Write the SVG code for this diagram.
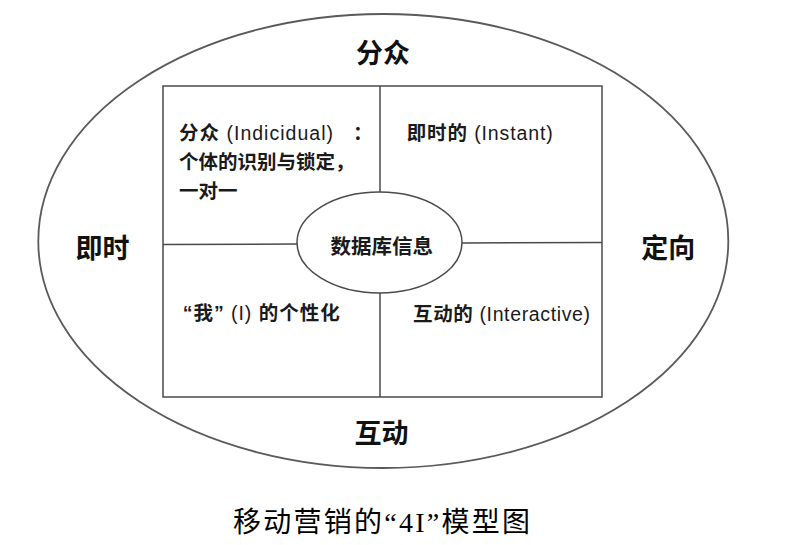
<svg xmlns="http://www.w3.org/2000/svg" width="793" height="545" viewBox="0 0 793 545">
<style>
.ln{fill:none;stroke:#4a4a4a;stroke-width:1.5}
.out{fill:none;stroke:#5a5a5a;stroke-width:1.8}
.big{font-family:"Noto Sans CJK SC","Liberation Sans",sans-serif;font-size:27px;font-weight:bold;fill:#111;text-anchor:middle}
.txt{font-family:"Liberation Sans","Noto Sans CJK SC",sans-serif;font-size:19.5px;fill:#1a1a1a}
.b{font-weight:bold}
.ctr{font-family:"Noto Sans CJK SC","Liberation Sans",sans-serif;font-size:20.5px;font-weight:bold;fill:#1a1a1a;text-anchor:middle}
.cap{font-family:"Liberation Serif","Noto Sans CJK SC",serif;font-size:28px;fill:#000}
</style>
<rect width="793" height="545" fill="#fff"/>
<g id="outer-model">
<ellipse class="out" cx="383.3" cy="241" rx="345" ry="227"/>
<text class="big" x="383" y="63">分众</text>
<text class="big" x="102.5" y="258">即时</text>
<text class="big" x="668.3" y="258">定向</text>
<text class="big" x="381.5" y="443">互动</text>
</g>
<g id="matrix">
<rect class="ln" x="163" y="86" width="439" height="311"/>
</g>
<g id="connectors">
<line class="ln" x1="380" y1="86" x2="380" y2="192"/>
<line class="ln" x1="380" y1="293" x2="380" y2="397"/>
<line class="ln" x1="163" y1="244.5" x2="297" y2="244"/>
<line class="ln" x1="462" y1="243" x2="602" y2="242.5"/>
</g>
<g id="quadrant-individual">
<text class="txt" x="179" y="140" textLength="154" lengthAdjust="spacing"><tspan class="b">分众</tspan> (Indicidual)</text>
<text class="txt b" x="353" y="140">：</text>
<text class="txt b" x="179" y="169">个体的识别与锁定，</text>
<text class="txt b" x="179" y="197.5">一对一</text>
</g>
<g id="quadrant-instant">
<text class="txt" x="406.7" y="140" textLength="146" lengthAdjust="spacing"><tspan class="b">即时的</tspan> (Instant)</text>
</g>
<g id="quadrant-i">
<text class="txt" x="182.7" y="320" textLength="157" lengthAdjust="spacing"><tspan class="b">“我”</tspan> (I) <tspan class="b">的个性化</tspan></text>
</g>
<g id="quadrant-interactive">
<text class="txt" x="413" y="320.5" textLength="177" lengthAdjust="spacing"><tspan class="b">互动的</tspan> (Interactive)</text>
</g>
<g id="center-database">
<ellipse class="ln" cx="379.5" cy="242.5" rx="82.5" ry="50.5" fill="#fff"/>
<text class="ctr" x="381.7" y="253.5">数据库信息</text>
</g>
<g id="caption">
<text class="cap" x="233" y="532" textLength="297" lengthAdjust="spacing">移动营销的“4I”模型图</text>
</g>
</svg>
